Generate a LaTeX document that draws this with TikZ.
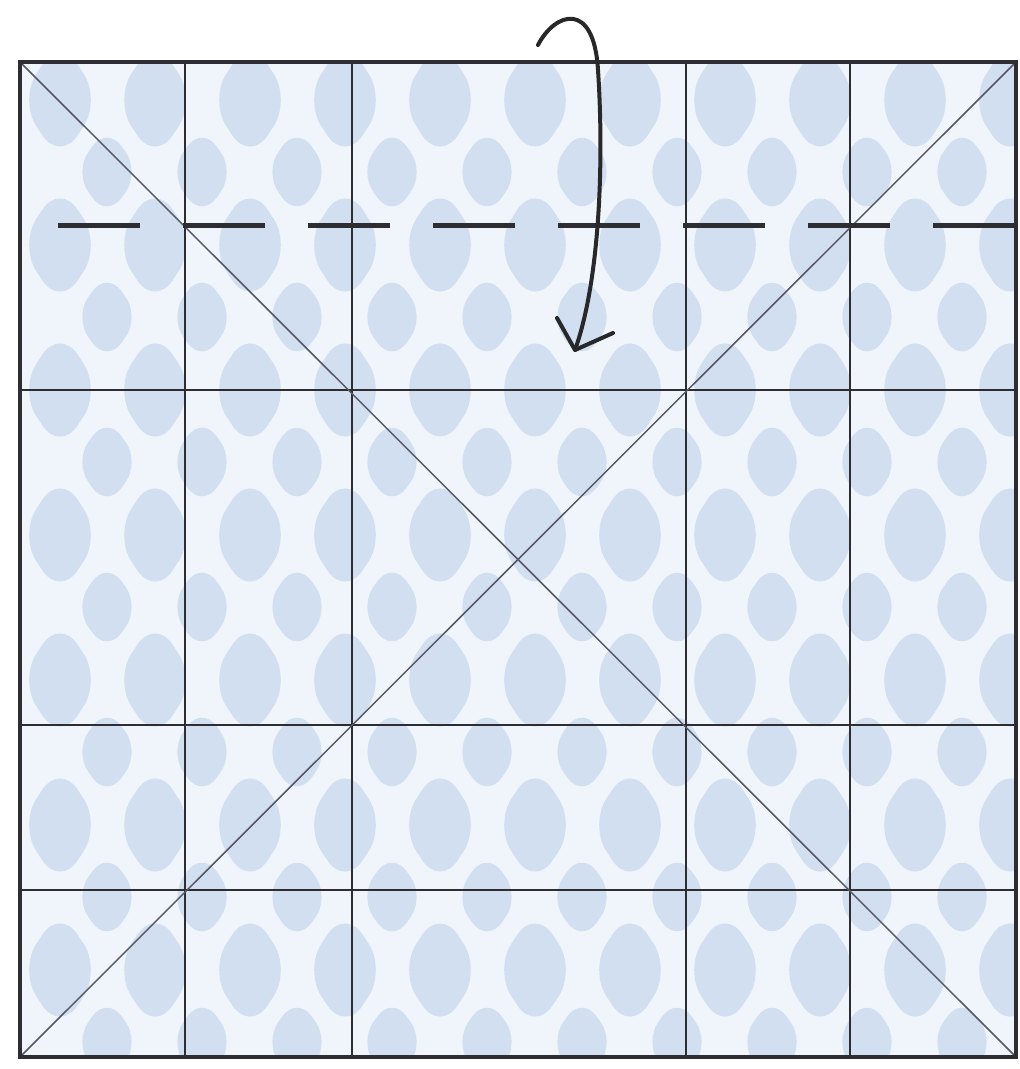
\documentclass[tikz,border=0pt]{standalone}
\begin{document}
\begin{tikzpicture}[x=0.02cm,y=-0.02cm,
  frame/.style={line width=0.08cm, draw=linecol},
  crease/.style={line width=0.03cm, draw=linecol},
  diag/.style={line width=0.03cm, draw=diagcol},
  foldline/.style={line width=0.1cm, draw=linecol, dash pattern=on 1.64cm off 0.86cm},
  arrowline/.style={line width=0.08cm, draw=arrowcol, line cap=round, line join=round},
  blob/.style={fill=blobcol},
  smallblob/.style={fill=blobcol}]
\definecolor{linecol}{RGB}{45,45,50}
\definecolor{diagcol}{RGB}{85,88,100}
\definecolor{arrowcol}{RGB}{40,40,42}
\definecolor{papercol}{RGB}{240,245,251}
\definecolor{blobcol}{RGB}{210,223,241}
\useasboundingbox (0,0) rectangle (1020,1069);
\fill[white] (0,0) rectangle (1020,1069);
% paper with pattern
\coordinate (TL) at (20,62);
\coordinate (TR) at (1016,62);
\coordinate (BL) at (20,1057);
\coordinate (BR) at (1016,1057);
\begin{scope}
  \clip (TL) rectangle (BR);
  \fill[papercol] (TL) rectangle (BR);
  \foreach \r in {0,...,8}{
    \foreach \c in {0,...,11}{
      \fill[blob, rounded corners=18] ({60+95*\c},{38+145*\r}) -- ({101+95*\c},{100+145*\r}) -- ({60+95*\c},{162+145*\r}) -- ({19+95*\c},{100+145*\r}) -- cycle;
      \fill[smallblob, rounded corners=14] ({107+95*\c},{126+145*\r}) -- ({140+95*\c},{172+145*\r}) -- ({107+95*\c},{218+145*\r}) -- ({74+95*\c},{172+145*\r}) -- cycle;
    }
  }
\end{scope}
% creases
\foreach \x in {185,352,686,850}{
  \draw[crease] (\x,62) -- (\x,1057);
}
\foreach \y in {390,725,890}{
  \draw[crease] (20,\y) -- (1016,\y);
}
\draw[diag] (TL) -- (BR);
\draw[diag] (TR) -- (BL);
% frame
\draw[frame] (TL) rectangle (BR);
% fold line
\coordinate (fa) at (58,225);
\coordinate (fb) at (1020,225);
\draw[foldline] (fa) -- (fb);
% arrow
\coordinate (a0) at (538,45);
\coordinate (a1) at (598,70);
\coordinate (tip) at (575,350);
\coordinate (barbL) at (557,318);
\coordinate (barbR) at (613,333);
\draw[arrowline] (a0) .. controls (555,12) and (594,0) .. (a1)
   .. controls (604,160) and (600,280) .. (tip);
\draw[arrowline] (barbL) -- (tip) -- (barbR);
\end{tikzpicture}
\end{document}
